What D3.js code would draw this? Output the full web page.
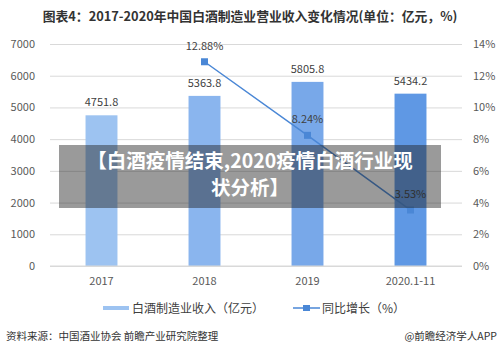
<!DOCTYPE html>
<html lang="zh">
<head>
<meta charset="UTF-8">
<title>白酒制造业营业收入</title>
<style>
  body { margin: 0; background: #fff; }
  text { font-family: "Noto Sans CJK SC", "Noto Sans", sans-serif; }
</style>
</head>
<body>
<svg id="svg" width="500" height="354"></svg>
<script src="https://d3js.org/d3.v7.min.js"></script>
<script>
  // data
  const years = ['2017', '2018', '2019', '2020.1-11']
  const revenue = [4751.8, 5363.8, 5805.8, 5434.2]
  const growth = [null, 12.88, 8.24, 3.53]
  const leftTicks = [0, 1000, 2000, 3000, 4000, 5000, 6000, 7000]
  const rightTicks = [0, 2, 4, 6, 8, 10, 12, 14]
  const barColors = ['#9dc3f1', '#8ab5ee', '#78a8e9', '#5f98e4']

  const margin = { top: 44, right: 38, bottom: 88, left: 50 }
  const W = 500, H = 354
  const svg = d3.select('#svg')

  // scales
  const x = d3.scaleBand()
    .domain(years)
    .range([margin.left, W - margin.right])
    .paddingInner(0.69)
    .paddingOuter(0.345)
  const y = d3.scaleLinear().domain([0, 7000]).range([H - margin.bottom, margin.top])
  const y2 = d3.scaleLinear().domain([0, 14]).range([H - margin.bottom, margin.top])
  const cx = d => x(d) + x.bandwidth() / 2

  // title
  svg.append('text')
    .attr('x', 250).attr('y', 21)
    .attr('text-anchor', 'middle')
    .style('font-size', '12.8px').style('font-weight', 'bold').attr('fill', '#333')
    .text('图表4：2017-2020年中国白酒制造业营业收入变化情况(单位：亿元，%)')

  // grid + left axis
  const leftAxis = d3.axisLeft(y).tickValues(leftTicks)
    .tickSize(-(W - margin.left - margin.right)).tickPadding(15)
    .tickFormat(d3.format('d'))
  const gl = svg.append('g').attr('transform', `translate(${margin.left},0)`).call(leftAxis)
  gl.select('.domain').remove()
  gl.selectAll('line').attr('stroke', '#d9d9d9')
  gl.selectAll('text').attr('fill', '#595959').style('font-size', '11px')

  const rightAxis = d3.axisRight(y2).tickValues(rightTicks).tickSize(0).tickPadding(11)
    .tickFormat(d => d + '%')
  const gr = svg.append('g').attr('transform', `translate(${W - margin.right},0)`).call(rightAxis)
  gr.select('.domain').remove()
  gr.selectAll('text').attr('fill', '#595959').style('font-size', '11px')

  // bars
  svg.selectAll('rect.bar')
    .data(revenue)
    .enter()
    .append('rect')
    .attr('class', 'bar')
    .attr('x', (d, i) => x(years[i]))
    .attr('y', d => y(d))
    .attr('width', x.bandwidth())
    .attr('height', d => y(0) - y(d))
    .attr('fill', (d, i) => barColors[i])

  svg.selectAll('text.barlab')
    .data(revenue)
    .enter()
    .append('text')
    .attr('x', (d, i) => cx(years[i]))
    .attr('y', d => y(d) - 9)
    .attr('text-anchor', 'middle')
    .attr('fill', '#404040').style('font-size', '11px')
    .text(d => d.toFixed(1))

  // bottom axis line + labels
  svg.append('line')
    .attr('x1', margin.left).attr('x2', W - margin.right)
    .attr('y1', y(0)).attr('y2', y(0))
    .attr('stroke', '#d9d9d9')
  const bottomAxis = d3.axisBottom(x).tickSize(0).tickPadding(11)
  const gb = svg.append('g').attr('transform', `translate(0,${y(0)})`).call(bottomAxis)
  gb.select('.domain').remove()
  gb.selectAll('text').attr('fill', '#595959').style('font-size', '11px')

  // growth line
  const pts = growth.map((g, i) => ({ year: years[i], g })).filter(d => d.g !== null)
  const line = d3.line().x(d => cx(d.year)).y(d => y2(d.g))
  svg.append('path')
    .datum(pts)
    .attr('d', line)
    .attr('fill', 'none')
    .attr('stroke', '#4a87d6')
    .attr('stroke-width', 1.5)
  svg.selectAll('rect.pt')
    .data(pts)
    .enter()
    .append('rect')
    .attr('x', d => cx(d.year) - 3.5)
    .attr('y', d => y2(d.g) - 3.5)
    .attr('width', 7).attr('height', 7)
    .attr('fill', '#4a87d6')
  svg.selectAll('text.ptlab')
    .data(pts)
    .enter()
    .append('text')
    .attr('x', d => cx(d.year))
    .attr('y', d => y2(d.g) - 12)
    .attr('text-anchor', 'middle')
    .attr('fill', '#404040').style('font-size', '11px')
    .text(d => d.g.toFixed(2) + '%')

  // legend
  const lg = svg.append('g')
  lg.append('rect').attr('x', 103).attr('y', 306).attr('width', 26).attr('height', 4).attr('fill', '#9dc3f1')
  lg.append('text').attr('x', 132).attr('y', 312.5).attr('fill', '#404040').style('font-size', '12px')
    .text('白酒制造业收入（亿元）')
  lg.append('line').attr('x1', 293).attr('x2', 320).attr('y1', 308).attr('y2', 308)
    .attr('stroke', '#4a87d6').attr('stroke-width', 1.5)
  lg.append('rect').attr('x', 303).attr('y', 305).attr('width', 7).attr('height', 6).attr('fill', '#4a87d6')
  lg.append('text').attr('x', 322).attr('y', 312.5).attr('fill', '#404040').style('font-size', '12px')
    .text('同比增长（%）')

  // footer
  svg.append('text').attr('x', 6).attr('y', 340).attr('fill', '#333').style('font-size', '10.5px')
    .text('资料来源：中国酒业协会 前瞻产业研究院整理')
  svg.append('text').attr('x', 497).attr('y', 340).attr('text-anchor', 'end')
    .attr('fill', '#333').style('font-size', '10.5px')
    .text('@前瞻经济学人APP')

  // grey banner over the chart
  svg.append('rect')
    .attr('x', 59).attr('y', 145).attr('width', 382).attr('height', 63)
    .attr('fill', 'rgba(30,30,30,0.45)')
  const banner = ['【白酒疫情结束,2020疫情白酒行业现', '状分析】']
  svg.selectAll('text.banner')
    .data(banner)
    .enter()
    .append('text')
    .attr('x', 250)
    .attr('y', (d, i) => 168 + i * 27)
    .attr('text-anchor', 'middle')
    .attr('fill', '#fff')
    .style('font-size', '19.5px').style('font-weight', 'bold')
    .text(d => d)
</script>
</body>
</html>
